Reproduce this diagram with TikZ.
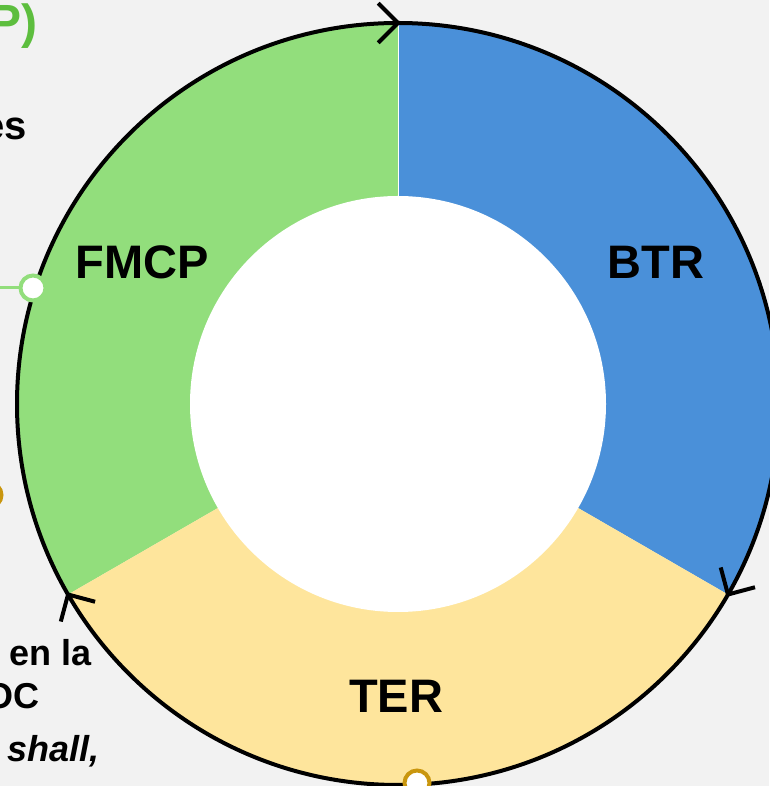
\documentclass[tikz,border=0pt]{standalone}
\usepackage{fontspec}
\setmainfont{Liberation Sans}
\usetikzlibrary{calc}
\definecolor{bg}{HTML}{F2F2F2}
\definecolor{segG}{HTML}{92DE7C}
\definecolor{segB}{HTML}{4A90D9}
\definecolor{segY}{HTML}{FEE59C}
\definecolor{gold}{HTML}{C9960E}
\definecolor{titleG}{HTML}{5DBE3E}
\begin{document}
\begin{tikzpicture}[x=1pt,y=1pt,
  lbl/.style={font=\bfseries\fontsize{47}{56}\selectfont, inner sep=0pt},
  side/.style={font=\bfseries\fontsize{36}{43}\selectfont, inner sep=0pt, anchor=base east},
  ring/.style={line width=4pt, draw=black},
  barb/.style={line width=4pt, line cap=butt, line join=miter},
  marker/.style={circle, fill=white, line width=4pt, minimum size=25pt, inner sep=0pt}]
\fill[bg] (0,0) rectangle (769,786);
\useasboundingbox (0,0) rectangle (769,786);
\coordinate (C) at (398,382);
% segments
\fill[segG] (C) -- ++(90:381) arc[start angle=90, end angle=210, radius=381] -- cycle;
\fill[segB] (C) -- ++(-30:381) arc[start angle=-30, end angle=90, radius=381] -- cycle;
\fill[segY] (C) -- ++(210:381) arc[start angle=210, end angle=330, radius=381] -- cycle;
\coordinate (top) at ($(C)+(90:381)$);
\draw[white, line width=1pt] (C) -- (top);
\fill[white] (C) circle[radius=208];
% outer ring
\draw[ring] (C) circle[radius=381];
% arrowheads
\coordinate (aT) at ($(C)+(90:381)$);
\coordinate (aR) at ($(C)+(-30:381)$);
\coordinate (aL) at ($(C)+(210:381)$);
\draw[barb] ($(aT)+(135:28)$) -- (aT) -- ($(aT)+(225:28)$);
\draw[barb] ($(aR)+(15:28)$) -- (aR) -- ($(aR)+(105:28)$);
\draw[barb] ($(aL)+(255:28)$) -- (aL) -- ($(aL)+(345:28)$);
% labels
\node[lbl] (fmcp) at (142,524) {FMCP};
\node[lbl] (btr) at (656,524) {BTR};
\node[lbl] (ter) at (396,90) {TER};
% markers
\coordinate (gL) at (0,498);
\node[marker, draw=segG] (mG) at (33,498) {};
\draw[segG, line width=3pt] (gL) -- (mG);
\node[marker, draw=gold] (mO) at (-11,291) {};
\node[marker, draw=gold] (mY) at (417,3) {};
\node[marker, draw=segB] (mB) at (781,406) {};
% side texts (cut at edge)
\node[side, text=titleG, font=\bfseries\fontsize{48}{56}\selectfont] (tP) at (38,747) {P)};
\node[side, font=\bfseries\fontsize{40}{48}\selectfont] (tes) at (27,646) {es};
\node[side] (tenla) at (92,120) {en la};
\node[side] (toc) at (40,77) {OC};
\node[side, font=\bfseries\itshape\fontsize{36}{43}\selectfont] (tshall) at (100,24) {shall,};
\end{tikzpicture}
\end{document}
